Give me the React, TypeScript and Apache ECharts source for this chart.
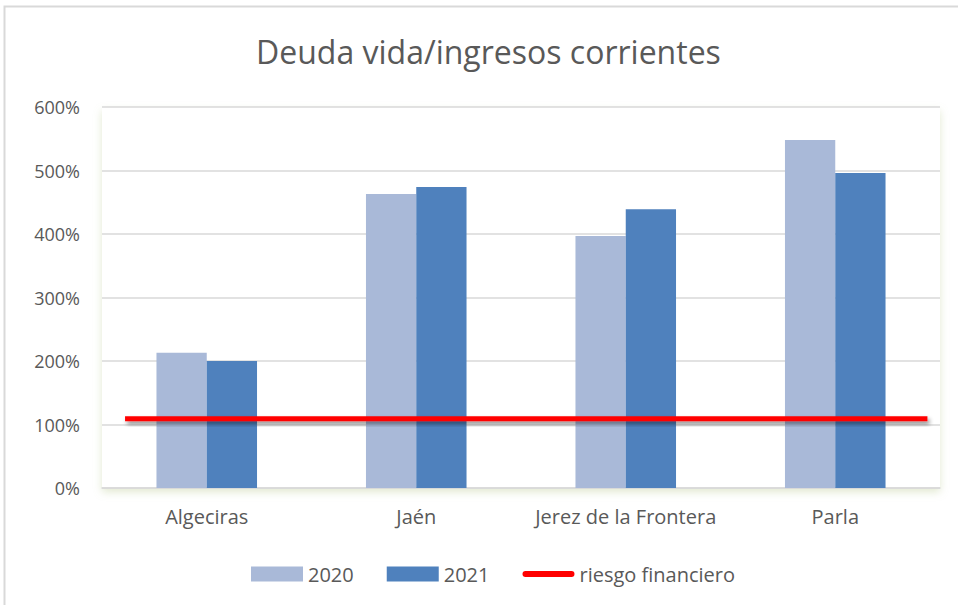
import React, { useEffect, useRef } from "react";
import * as echarts from "echarts";

const categories = ["Algeciras", "Jaén", "Jerez de la Frontera", "Parla"];
const values2020 = [213, 463, 397, 548];
const values2021 = [200, 474, 439, 496];
const riskLevel = 109;
const riskSpan = [0.11, 3.94]; // start / end along the categories (0..4)
const yTicks = { min: 0, max: 600, interval: 100 };

export default function App() {
  const ref = useRef<HTMLDivElement>(null);
  useEffect(() => {
    if (!ref.current) return;
    const chart = echarts.init(ref.current, undefined, { renderer: "svg" });
    const font = "'Open Sans', Lato, sans-serif";
    chart.setOption({
      animation: false,
      backgroundColor: "#ffffff",
      textStyle: { fontFamily: font },
      title: {
        text: "Deuda vida/ingresos corrientes",
        left: 251,
        top: 30,
        textStyle: { fontFamily: font, fontSize: 32, fontWeight: "normal", color: "#595959" },
      },
      graphic: [
        {
          type: "rect",
          shape: { x: 4.5, y: 6.5, width: 1000, height: 1000 },
          style: { fill: "none", stroke: "#d9d9d9", lineWidth: 2 },
          silent: true,
        },
      ],
      legend: {
        top: 559,
        left: 246,
        itemWidth: 52,
        itemHeight: 15,
        itemGap: 33,
        textStyle: { fontFamily: font, fontSize: 20, color: "#595959" },
        data: [
          { name: "2020", icon: "rect" },
          { name: "2021", icon: "rect" },
          {
            name: "riesgo financiero",
            icon: "path://M3,0 H49 A3,3 0 0 1 49,6 H3 A3,3 0 0 1 3,0 Z",
            itemStyle: { color: "#FF0000" },
          },
        ],
      },
      grid: {
        left: 102,
        right: 18,
        top: 107,
        bottom: 117,
        show: true,
        backgroundColor: "#ffffff",
        borderWidth: 0,
        shadowColor: "rgba(170,190,120,0.35)",
        shadowBlur: 8,
        shadowOffsetY: 4,
      },
      xAxis: [
        {
          type: "category",
          data: categories,
          axisLine: { lineStyle: { color: "#d9d9d9", width: 1.5 } },
          axisTick: { show: false },
          axisLabel: { interval: 0, fontFamily: font, fontSize: 20, color: "#595959", margin: 18 },
        },
        {
          type: "value",
          min: 0,
          max: 4,
          show: false,
        },
      ],
      yAxis: {
        type: "value",
        min: yTicks.min,
        max: yTicks.max,
        interval: yTicks.interval,
        axisLine: { show: false },
        axisTick: { show: false },
        splitLine: { lineStyle: { color: "#d9d9d9", width: 1.5 } },
        axisLabel: {
          formatter: "{value}%",
          fontFamily: font,
          fontSize: 18,
          color: "#595959",
          margin: 22,
        },
      },
      series: [
        {
          name: "2020",
          type: "bar",
          data: values2020,
          barWidth: "24%",
          barGap: "0%",
          itemStyle: { color: "#A9B9D8" },
        },
        {
          name: "2021",
          type: "bar",
          data: values2021,
          barWidth: "24%",
          itemStyle: { color: "#4F81BD" },
        },
        {
          name: "riesgo financiero",
          type: "custom",
          xAxisIndex: 1,
          yAxisIndex: 0,
          encode: { x: [0, 1], y: 2 },
          data: [[riskSpan[0], riskSpan[1], riskLevel]],
          itemStyle: { color: "#FF0000" },
          z: 5,
          renderItem: (params: any, api: any) => {
            const p0 = api.coord([api.value(0), api.value(2)]);
            const p1 = api.coord([api.value(1), api.value(2)]);
            return {
              type: "rect",
              shape: { x: p0[0], y: p0[1] - 2.5, width: p1[0] - p0[0], height: 5 },
              style: {
                fill: "#FF0000",
                shadowBlur: 4,
                shadowColor: "rgba(0,0,0,0.45)",
                shadowOffsetX: 2,
                shadowOffsetY: 3,
              },
            };
          },
        },
      ],
    });
    return () => chart.dispose();
  }, []);
  return (
    <div
      ref={ref}
      style={{ position: "absolute", left: 0, top: 0, width: 958, height: 605 }}
    />
  );
}
